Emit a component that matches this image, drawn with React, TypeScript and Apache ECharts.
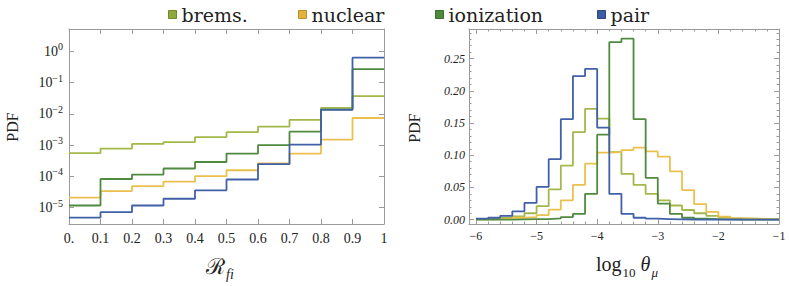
import React, { useEffect, useRef } from 'react';
import * as echarts from 'echarts';

// ---------- data ----------
const seriesNames = ['brems.', 'nuclear', 'ionization', 'pair'];

// left panel: R_fi histogram (log PDF)
const leftEdges = [0, 0.1, 0.2, 0.3, 0.4, 0.5, 0.6, 0.7, 0.8, 0.9, 1.0];
const leftBrems = [5.6e-4, 7.8e-4, 1.1e-3, 1.26e-3, 1.8e-3, 2.6e-3, 3.9e-3, 6.5e-3, 1.56e-2, 3.7e-2];
const leftNuclear = [2.1e-5, 3.4e-5, 4.9e-5, 6.8e-5, 1.02e-4, 1.58e-4, 2.6e-4, 5.4e-4, 1.5e-3, 7.4e-3];
const leftIonization = [1.18e-5, 8.3e-5, 1.15e-4, 1.8e-4, 2.9e-4, 5.4e-4, 1.0e-3, 2.7e-3, 1.4e-2, 0.27];
const leftPair = [4.8e-6, 7.2e-6, 1.18e-5, 1.94e-5, 3.6e-5, 8.0e-5, 2.5e-4, 1.04e-3, 1.35e-2, 0.63];
const leftXTicks = [0, 0.1, 0.2, 0.3, 0.4, 0.5, 0.6, 0.7, 0.8, 0.9, 1.0];
const leftYExponents = [-5, -4, -3, -2, -1, 0];

// right panel: log10 theta_mu histogram (linear PDF)
const rightEdges = [
  -6.0, -5.8, -5.6, -5.4, -5.2, -5.0, -4.8, -4.6, -4.4, -4.2, -4.0, -3.8, -3.6,
  -3.4, -3.2, -3.0, -2.8, -2.6, -2.4, -2.2, -2.0, -1.8, -1.6, -1.4, -1.2, -1.0,
];
const rightBrems = [
  0.001, 0.0015, 0.003, 0.005, 0.01, 0.021, 0.047, 0.084, 0.136, 0.172, 0.157, 0.105, 0.071,
  0.054, 0.04, 0.03, 0.022, 0.015, 0.01, 0.006, 0.0036, 0.002, 0.0015, 0.001, 0.001,
];
const rightNuclear = [
  0.0005, 0.001, 0.0015, 0.003, 0.004, 0.007, 0.0155, 0.03, 0.054, 0.087, 0.104, 0.105, 0.108,
  0.112, 0.106, 0.098, 0.075, 0.046, 0.024, 0.012, 0.0047, 0.002, 0.0015, 0.001, 0.0005,
];
const rightIonization = [
  0, 0, 0, 0.0005, 0.001, 0.001, 0.002, 0.004, 0.009, 0.04, 0.132, 0.2755, 0.281,
  0.156, 0.065, 0.025, 0.009, 0.003, 0.0015, 0.001, 0.0005, 0.0003, 0.0002, 0.0001, 0,
];
const rightPair = [
  0.0015, 0.003, 0.006, 0.013, 0.026, 0.051, 0.094, 0.156, 0.223, 0.234, 0.143, 0.04, 0.009,
  0.003, 0.0015, 0.001, 0.0005, 0.0003, 0.0002, 0.0001, 0, 0, 0, 0, 0,
];
const rightXTicks = [-6, -5, -4, -3, -2, -1];
const rightYTicks = [0, 0.05, 0.1, 0.15, 0.2, 0.25];
const rightYMinor = [
  0, 0.01, 0.02, 0.03, 0.04, 0.05, 0.06, 0.07, 0.08, 0.09, 0.1, 0.11, 0.12, 0.13, 0.14,
  0.15, 0.16, 0.17, 0.18, 0.19, 0.2, 0.21, 0.22, 0.23, 0.24, 0.25, 0.26, 0.27, 0.28, 0.29,
];

// ---------- styles ----------
const lineColors = ['#a3b84b', '#ecc04e', '#4f8a3e', '#4060a8'];
const legendFill = ['#8fa93b', '#e3b23f', '#4d8a3d', '#3e5aa0'];
const legendBorder = ['#6e8a2c', '#b88f2a', '#3a6e2e', '#2d4580'];
const legendLeft = [168, 298, 435, 597];
const FRAME = '#9a9a9a';
const SERIF = 'Liberation Serif';
const WIDE_SERIF = 'DejaVu Serif';
const LABEL = '#222';

const App: React.FC = () => {
  const ref = useRef<HTMLDivElement>(null);

  useEffect(() => {
    if (!ref.current) return;
    const chart = echarts.init(ref.current, undefined, { renderer: 'svg' });

    const stepData = (edges: number[], vals: number[], tf: (v: number) => number) => {
      const pts = vals.map((v, i) => [edges[i], tf(v)]);
      pts.push([edges[vals.length], tf(vals[vals.length - 1])]);
      return pts;
    };

    const axis = (o: any) => {
      const {
        gridIndex, position, min, max, ticks, tickLen = 5, labels, labelFmt, labelStyle = {}, line = true,
      } = o;
      return {
        type: 'value',
        gridIndex,
        position,
        min,
        max,
        scale: true,
        axisLine: { show: line, onZero: false, lineStyle: { color: FRAME, width: 1 } },
        axisTick: {
          show: true,
          inside: true,
          length: tickLen,
          customValues: ticks,
          lineStyle: { color: FRAME, width: 1 },
        },
        axisLabel: labels
          ? { show: true, customValues: labels, formatter: labelFmt, color: LABEL, fontFamily: SERIF, ...labelStyle }
          : { show: false },
        splitLine: { show: false },
      };
    };

    const L = { min: 0, max: 1 };
    const LY = { min: -5.52, max: 0.716 };
    const R = { min: -6.115, max: -1.0 };
    const RY = { min: -0.0067, max: 0.296 };

    const xAxis = [
      axis({
        gridIndex: 0, position: 'bottom', ...L, ticks: leftXTicks, labels: leftXTicks,
        labelFmt: (v: number) => (v === 0 ? '0.' : v === 1 ? '1' : v.toFixed(1)),
        labelStyle: { fontSize: 14, margin: 7 },
      }),
      axis({ gridIndex: 0, position: 'top', ...L, ticks: leftXTicks }),
      axis({
        gridIndex: 1, position: 'bottom', ...R, ticks: rightXTicks, labels: rightXTicks,
        labelFmt: (v: number) => (v < 0 ? '\u2212' + Math.abs(v) : String(v)),
        labelStyle: { fontSize: 12, margin: 6 },
      }),
      axis({ gridIndex: 1, position: 'bottom', ...R, ticks: rightEdges, tickLen: 2.5, line: false }),
      axis({ gridIndex: 1, position: 'top', ...R, ticks: rightXTicks }),
      axis({ gridIndex: 1, position: 'top', ...R, ticks: rightEdges, tickLen: 2.5, line: false }),
    ];

    const yAxis = [
      axis({
        gridIndex: 0, position: 'left', ...LY, ticks: leftYExponents, labels: leftYExponents,
        labelFmt: (v: number) => `{b|10}{s|${v === 0 ? '0' : '\u2212' + Math.abs(v)}}`,
        labelStyle: {
          margin: 6,
          rich: {
            b: { fontSize: 14, fontFamily: SERIF, color: LABEL },
            s: { fontSize: 10, fontFamily: SERIF, color: LABEL, padding: [0, 0, 9, 0] },
          },
        },
      }),
      axis({ gridIndex: 0, position: 'right', ...LY, ticks: leftYExponents }),
      axis({
        gridIndex: 1, position: 'left', ...RY, ticks: rightYTicks, labels: rightYTicks,
        labelFmt: (v: number) => v.toFixed(2),
        labelStyle: { fontSize: 12, fontStyle: 'italic', margin: 4 },
      }),
      axis({ gridIndex: 1, position: 'left', ...RY, ticks: rightYMinor, tickLen: 2.5, line: false }),
      axis({ gridIndex: 1, position: 'right', ...RY, ticks: rightYTicks }),
      axis({ gridIndex: 1, position: 'right', ...RY, ticks: rightYMinor, tickLen: 2.5, line: false }),
    ];

    const leftVals = [leftBrems, leftNuclear, leftIonization, leftPair];
    const rightVals = [rightBrems, rightNuclear, rightIonization, rightPair];

    const mk = (name: string, i: number, data: number[][], xi: number, yi: number) => ({
      type: 'line',
      name,
      xAxisIndex: xi,
      yAxisIndex: yi,
      step: 'end',
      symbol: 'none',
      data,
      lineStyle: { color: lineColors[i], width: 1.8 },
      itemStyle: { color: lineColors[i] },
      z: 3,
    });

    const series: any[] = [];
    seriesNames.forEach((n, i) => {
      series.push(mk(n, i, stepData(leftEdges, leftVals[i], (v) => Math.log10(v)), 0, 0));
    });
    seriesNames.forEach((n, i) => {
      series.push(mk(n, i, stepData(rightEdges, rightVals[i], (v) => v), 2, 2));
    });

    const legend = seriesNames.map((n, i) => ({
      left: legendLeft[i],
      top: 5,
      padding: 0,
      icon: 'rect',
      itemWidth: 8,
      itemHeight: 8,
      selectedMode: false,
      textStyle: { fontSize: 19, fontFamily: WIDE_SERIF, color: '#222' },
      data: [{ name: n, icon: 'rect', itemStyle: { color: legendFill[i], borderColor: legendBorder[i], borderWidth: 1 } }],
    }));

    const option: any = {
      animation: false,
      backgroundColor: '#ffffff',
      legend,
      grid: [
        { left: 69, top: 29, width: 315, height: 195, outerBoundsMode: 'none', containLabel: false },
        { left: 469, top: 29, width: 310, height: 195, outerBoundsMode: 'none', containLabel: false },
      ],
      xAxis,
      yAxis,
      series,
      graphic: [
        {
          type: 'text', x: 12, y: 127, rotation: Math.PI / 2,
          style: { text: 'PDF', fontSize: 16, fontFamily: SERIF, fill: '#222', align: 'center', verticalAlign: 'middle' },
        },
        {
          type: 'text', x: 414, y: 128, rotation: Math.PI / 2,
          style: { text: 'PDF', fontSize: 16, fontFamily: SERIF, fill: '#222', align: 'center', verticalAlign: 'middle' },
        },
        {
          type: 'text', x: 220, y: 266,
          style: {
            text: '{r|\u211B}{s|fi}',
            align: 'center', verticalAlign: 'middle',
            rich: {
              r: { fontSize: 22, fontFamily: WIDE_SERIF, fill: '#222' },
              s: { fontSize: 14, fontFamily: SERIF, fill: '#222', fontStyle: 'italic', padding: [16, 0, 0, 1] },
            },
          },
        },
        {
          type: 'text', x: 627, y: 264,
          style: {
            text: '{a|log}{b|10}{c| \u03B8}{d|\u03BC}',
            align: 'center', verticalAlign: 'middle',
            rich: {
              a: { fontSize: 20, fontFamily: SERIF, fill: '#222' },
              b: { fontSize: 13, fontFamily: SERIF, fill: '#222', padding: [16, 0, 0, 1] },
              c: { fontSize: 20, fontFamily: SERIF, fill: '#222', fontStyle: 'italic' },
              d: { fontSize: 13, fontFamily: SERIF, fill: '#222', fontStyle: 'italic', padding: [16, 0, 0, 1] },
            },
          },
        },
      ],
    };

    chart.setOption(option);
    return () => chart.dispose();
  }, []);

  return (
    <div
      ref={ref}
      style={{ position: 'fixed', left: 0, top: 0, width: 789, height: 286, background: '#fff' }}
    />
  );
};

export default App;
